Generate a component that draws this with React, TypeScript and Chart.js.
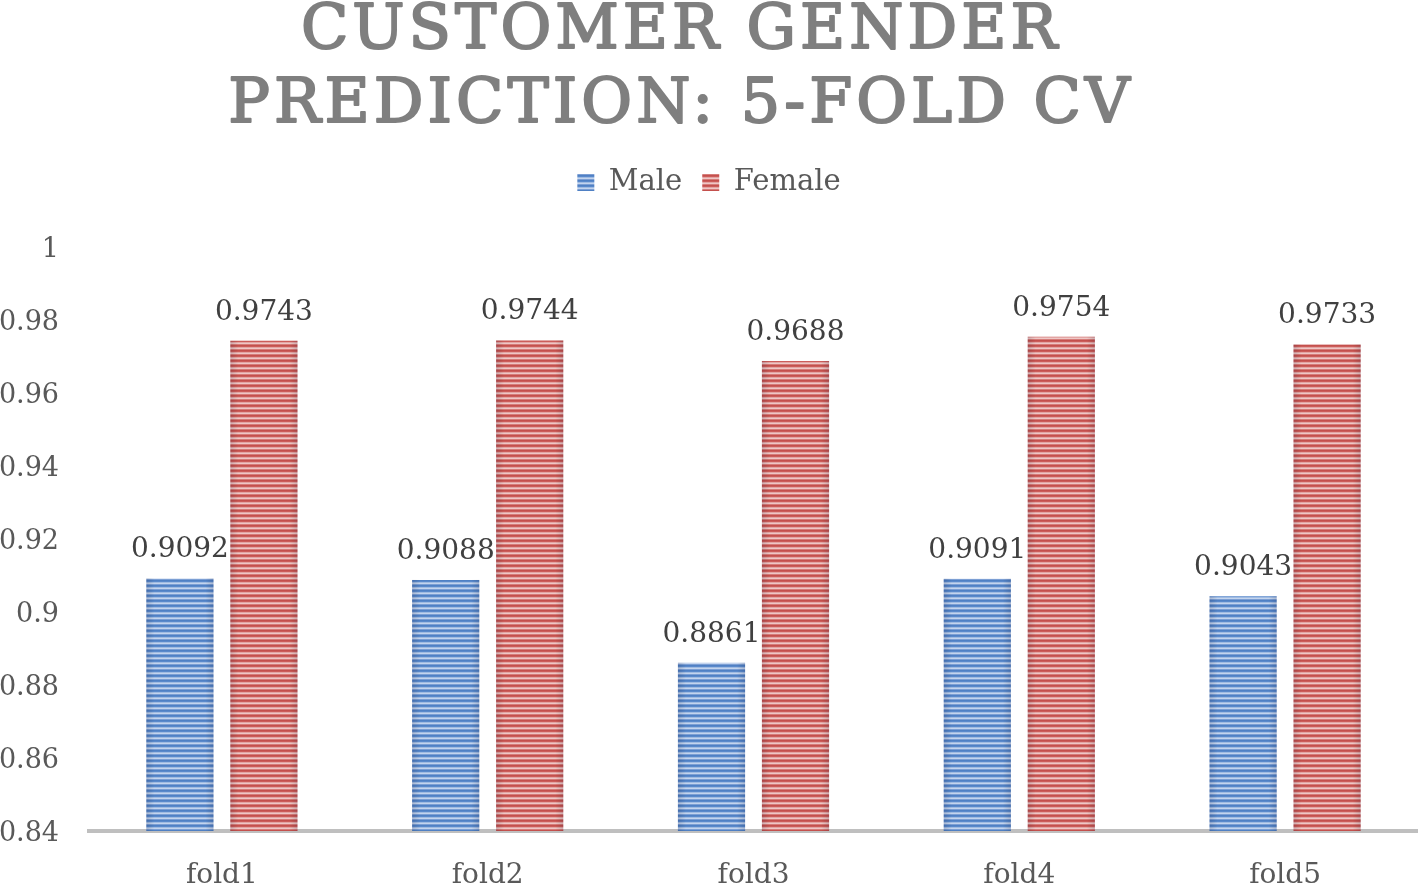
import React, { useEffect, useRef } from "react";
import { Chart, registerables } from "chart.js";

Chart.register(...registerables);

const categories = ["fold1", "fold2", "fold3", "fold4", "fold5"];
const maleValues = [0.9092, 0.9088, 0.8861, 0.9091, 0.9043];
const femaleValues = [0.9743, 0.9744, 0.9688, 0.9754, 0.9733];
const titleLines = ["CUSTOMER GENDER", "PREDICTION: 5-FOLD CV"];
const yMin = 0.84;
const yMax = 1;
const yStep = 0.02;

const FONT = "'DejaVu Serif', serif";

function stripePattern(rows: string[]): CanvasPattern | string {
  const c = document.createElement("canvas");
  c.width = 4;
  c.height = rows.length;
  const g = c.getContext("2d");
  if (!g) return rows[0];
  rows.forEach((col, i) => {
    g.fillStyle = col;
    g.fillRect(0, i, 4, 1);
  });
  const p = g.createPattern(c, "repeat");
  return p || rows[0];
}

const titlePlugin = {
  id: "customTitle",
  afterDraw(chart: any) {
    const ctx = chart.ctx;
    ctx.save();
    ctx.font = `62px ${FONT}`;
    (ctx as any).letterSpacing = "4px";
    ctx.fillStyle = "#7f7f7f";
    ctx.strokeStyle = "#7f7f7f";
    ctx.lineWidth = 2;
    ctx.lineJoin = "round";
    ctx.textAlign = "center";
    ctx.textBaseline = "alphabetic";
    const cx = 681;
    ctx.fillText(titleLines[0], cx, 48);
    ctx.strokeText(titleLines[0], cx, 48);
    ctx.fillText(titleLines[1], cx, 122);
    ctx.strokeText(titleLines[1], cx, 122);
    ctx.restore();
  },
};

const legendSpacer = {
  id: "legendSpacer",
  beforeInit(chart: any) {
    const legend = chart.legend;
    if (!legend) return;
    const fit = legend.fit;
    legend.fit = function () {
      fit.call(this);
      this.height += 40;
    };
  },
};

const barDecor = {
  id: "barDecor",
  afterDatasetsDraw(chart: any) {
    const ctx = chart.ctx;
    const area = chart.chartArea;
    ctx.save();
    ctx.beginPath();
    ctx.rect(area.left, area.top, area.right - area.left, area.bottom - area.top);
    ctx.clip();
    chart.data.datasets.forEach((ds: any, di: number) => {
      const meta = chart.getDatasetMeta(di);
      meta.data.forEach((bar: any) => {
        const { x, y, width } = bar.getProps(["x", "y", "width"], true);
        const left = x - width / 2;
        const bottom = area.bottom;
        const grad = ctx.createLinearGradient(left, 0, left + width, 0);
        grad.addColorStop(0, "rgba(0,0,40,0.14)");
        grad.addColorStop(0.12, "rgba(0,0,0,0)");
        grad.addColorStop(0.88, "rgba(0,0,0,0)");
        grad.addColorStop(1, "rgba(0,0,40,0.14)");
        ctx.fillStyle = grad;
        ctx.fillRect(left, y, width, bottom - y);
      });
    });
    ctx.restore();
    ctx.save();
    chart.data.datasets.forEach((ds: any, di: number) => {
      const meta = chart.getDatasetMeta(di);
      meta.data.forEach((bar: any, i: number) => {
        const { x, y } = bar.getProps(["x", "y"], true);
        ctx.font = `28px ${FONT}`;
        ctx.fillStyle = "#404040";
        ctx.textAlign = "center";
        ctx.textBaseline = "alphabetic";
        ctx.fillText(String(ds.data[i]), x, y - 21);
      });
    });
    ctx.restore();
  },
};

export default function App() {
  const ref = useRef<HTMLCanvasElement>(null);

  useEffect(() => {
    document.body.style.margin = "0";
    const canvas = ref.current;
    if (!canvas) return;
    const blue = stripePattern(["#4f80c4", "#5a89cb", "#9fbbe2", "#c3d4ee", "#7c9fd4"]);
    const red = stripePattern(["#c4504d", "#cc5d5a", "#e3a5a3", "#efc7c6", "#d67d7a"]);
    Chart.defaults.font.family = FONT;
    const chart = new Chart(canvas, {
      type: "bar",
      data: {
        labels: categories,
        datasets: [
          {
            label: "Male",
            data: maleValues,
            backgroundColor: blue as any,
            borderWidth: 0,
            categoryPercentage: 0.632,
            barPercentage: 0.8,
          },
          {
            label: "Female",
            data: femaleValues,
            backgroundColor: red as any,
            borderWidth: 0,
            categoryPercentage: 0.632,
            barPercentage: 0.8,
          },
        ],
      },
      options: {
        animation: false,
        responsive: false,
        maintainAspectRatio: false,
        layout: { padding: { top: 148, left: 0, right: 0, bottom: 0 } },
        plugins: {
          title: { display: false },
          tooltip: { enabled: false },
          legend: {
            display: true,
            position: "top",
            labels: {
              boxWidth: 17,
              boxHeight: 17,
              padding: 20,
              color: "#595959",
              font: { size: 29, family: FONT },
            },
          },
        },
        scales: {
          x: {
            grid: { display: false, drawTicks: false },
            border: { display: true, color: "#bfbfbf", width: 4 },
            ticks: {
              color: "#595959",
              font: { size: 28, family: FONT },
              padding: 28,
            },
            afterFit(scale: any) {
              scale.height = 53;
            },
          },
          y: {
            min: yMin,
            max: yMax,
            grid: { display: false, drawTicks: false },
            border: { display: false },
            ticks: {
              stepSize: yStep,
              color: "#595959",
              font: { size: 27, family: FONT },
              padding: 30,
              labelOffset: 3,
              callback: (v: any) => String(Math.round(Number(v) * 100) / 100),
            },
            afterFit(scale: any) {
              scale.width = 89;
            },
          },
        },
      },
      plugins: [legendSpacer, barDecor, titlePlugin],
    });
    return () => chart.destroy();
  }, []);

  return (
    <div style={{ width: 1418, height: 884 }}>
      <canvas ref={ref} width={1418} height={884} style={{ width: 1418, height: 884, display: "block" }} />
    </div>
  );
}
